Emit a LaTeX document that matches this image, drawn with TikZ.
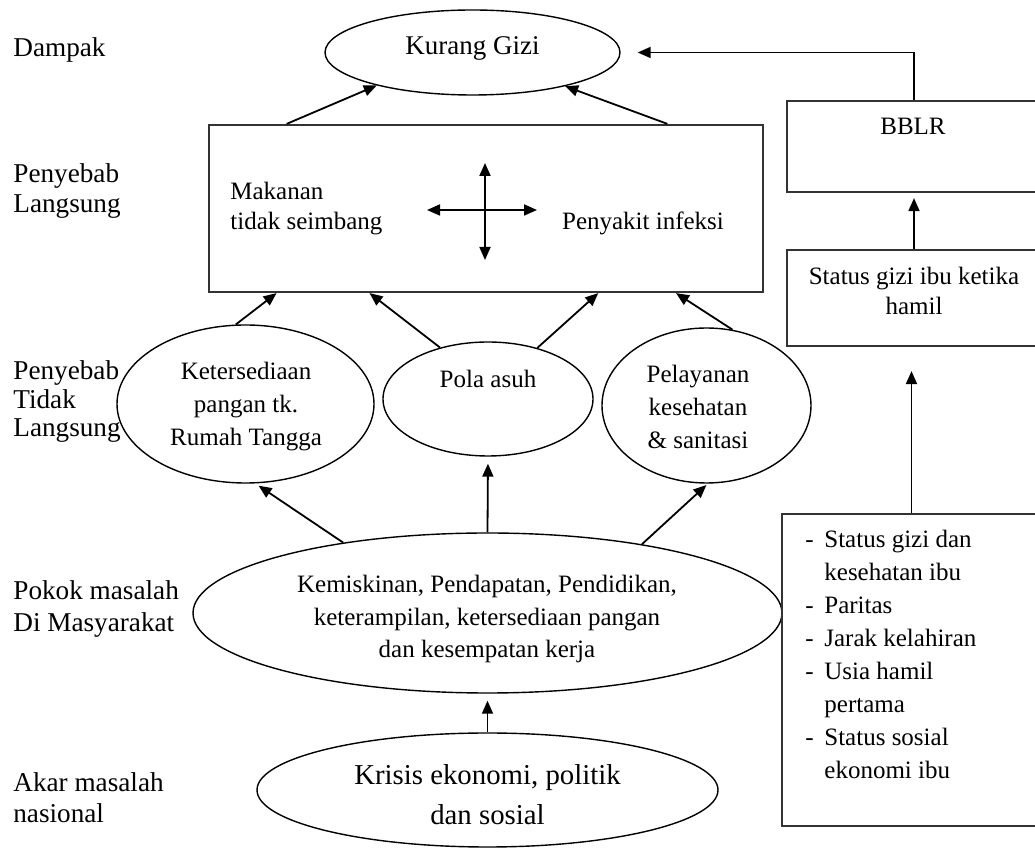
\documentclass[tikz,border=0pt]{standalone}
\usepackage{fontspec}
\setmainfont{Liberation Serif}
\usetikzlibrary{arrows.meta,shapes.geometric}
\begin{document}
\begin{tikzpicture}[x=0.5pt,y=-0.5pt,
  ell/.style={draw, ellipse, inner sep=0pt, line width=0.7pt},
  boxn/.style={draw=black!80, rectangle, inner sep=0pt, line width=1.1pt},
  arr/.style={line width=0.9pt, -{Triangle[length=6.5pt,width=5.5pt]}},
  dbl/.style={line width=0.9pt, {Triangle[length=6.5pt,width=5.5pt]}-{Triangle[length=6.5pt,width=5.5pt]}},
  lab/.style={font=\fontsize{13.6}{15}\selectfont, align=left, anchor=west, inner sep=0pt},
  txt/.style={font=\fontsize{12.5}{15}\selectfont, align=center, inner sep=0pt},
]
\useasboundingbox (0,0) rectangle (1035,849);

% left level labels
\node[lab, anchor=base west] (l1) at (13,57) {Dampak};
\node[lab] (l2) at (13,192) {\strut Penyebab\\\strut Langsung};
\node[lab, font=\fontsize{13.6}{14.25}\selectfont] (l3) at (13,402.8) {\strut Penyebab\\\strut Tidak\\\strut Langsung};
\node[lab, font=\fontsize{13.6}{16}\selectfont] (l4) at (13,609.6) {\strut Pokok masalah\\\strut Di Masyarakat};
\node[lab, font=\fontsize{13.6}{15.5}\selectfont] (l5) at (13,801.3) {\strut Akar masalah\\\strut nasional};

% shapes
\node[ell, minimum width=147.5pt, minimum height=42.5pt] (kg) at (472.5,52.5) {};
\node[boxn, minimum width=277pt, minimum height=83.5pt] (box) at (486,208.5) {};
\node[ell, minimum width=128.5pt, minimum height=79pt] (e1) at (245.5,404) {};
\node[ell, minimum width=105pt, minimum height=57pt] (pa) at (488,399) {};
\node[ell, minimum width=104.5pt, minimum height=77.5pt] (pl) at (706.5,405.5) {};
\node[ell, minimum width=294.5pt, minimum height=80pt] (km) at (487.5,613) {};
\node[ell, minimum width=230.5pt, minimum height=57pt] (kr) at (487.5,790) {};
\node[boxn, minimum width=127pt, minimum height=45.5pt] (bb) at (914,146.5) {};
\node[boxn, minimum width=127pt, minimum height=48pt] (sg) at (914,298) {};
\node[boxn, minimum width=129.5pt, minimum height=156pt] (lg) at (911.5,670) {};

% texts
\node[txt, font=\fontsize{13.5}{15}\selectfont, anchor=base] (kgt) at (472.5,55) {Kurang Gizi};
\node[txt, align=left, anchor=west] (mt) at (230,209) {\strut Makanan\\\strut tidak seimbang};
\node[txt, anchor=base] (pit) at (643,230) {Penyakit infeksi};
\node[txt, anchor=base] (bbt) at (913,135) {BBLR};
\node[txt] (sgt) at (914,294) {\strut Status gizi ibu ketika\\\strut hamil};
\node[txt, font=\fontsize{12.5}{16.5}\selectfont] (e1t) at (246,406.4) {\strut Ketersediaan\\\strut pangan tk.\\\strut Rumah Tangga};
\node[txt, anchor=base] (pat) at (488,388) {Pola asuh};
\node[txt, font=\fontsize{12.5}{16.5}\selectfont] (plt) at (698,409.4) {\strut Pelayanan\\\strut kesehatan\\\strut \& sanitasi};
\node[txt, font=\fontsize{12.5}{16.25}\selectfont] (kmt) at (487,619) {\strut Kemiskinan, Pendapatan, Pendidikan,\\\strut keterampilan, ketersediaan pangan\\\strut dan kesempatan kerja};
\node[txt, font=\fontsize{14.4}{20}\selectfont] (krt) at (487.5,797) {\strut Krisis ekonomi, politik\\\strut dan sosial};
\node[txt, font=\fontsize{12.5}{16.5}\selectfont, align=left, anchor=west] (lgt) at (805,656.9)
  {\strut\makebox[9.5pt][l]{-}Status gizi dan\\
   \strut\hspace*{9.5pt}kesehatan ibu\\
   \strut\makebox[9.5pt][l]{-}Paritas\\
   \strut\makebox[9.5pt][l]{-}Jarak kelahiran\\
   \strut\makebox[9.5pt][l]{-}Usia hamil\\
   \strut\hspace*{9.5pt}pertama\\
   \strut\makebox[9.5pt][l]{-}Status sosial\\
   \strut\hspace*{9.5pt}ekonomi ibu};

% cross arrows inside box
\coordinate (cu) at (485,163);
\coordinate (cd) at (485,260);
\coordinate (cl) at (427,210);
\coordinate (cr) at (537,210);
\draw[dbl] (cu) -- (cd);
\draw[dbl] (cl) -- (cr);

% connectors
\draw[arr] (box.157.64) -- (kg.199.45);
\draw[arr] (box.25.25) -- (kg.340.55);
\draw[arr] (e1.97.7) -- (box.202.26);
\draw[arr] (pa.133.9) -- (box.216.95);
\draw[arr] (pa.46.1) -- (box.323.05);
\draw[arr] (pl.71.3) -- (box.336.16);
\draw[arr, shorten >=2pt] (km.154.84) -- (e1.277.9);
\draw[arr, shorten >=3.5pt] (km.north) -- (pa.south);
\draw[arr, shorten >=1pt] (km.24.55) -- (pl.271.1);
\draw[arr, shorten >=3.5pt] (kr.north) -- (km.south);
\draw[arr, shorten >=8.5pt] (bb.north) |- (kg.east);
\draw[arr, shorten >=2.5pt] (sg.north) -- (bb.south);
\draw[arr, shorten >=12pt] (lg.north) -- (lg.north |- sg.south);
\end{tikzpicture}
\end{document}
